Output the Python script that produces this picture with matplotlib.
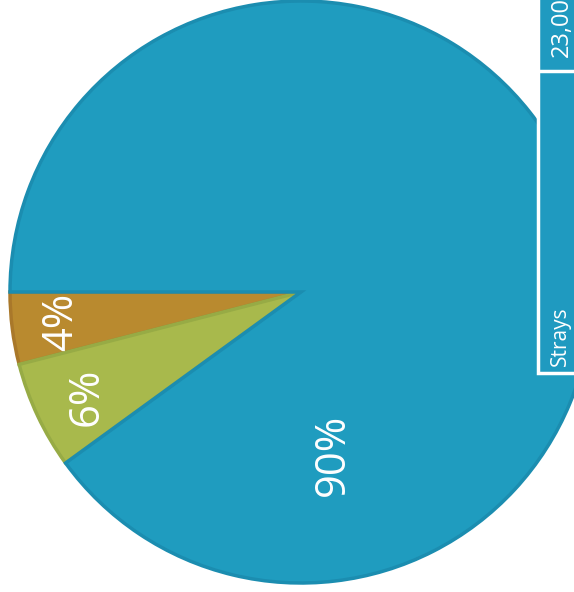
import numpy as np
import matplotlib.pyplot as plt
from matplotlib.patches import Rectangle

# datos del grafico (porcentajes)
valores = [4, 6, 90]
etiquetas = ["4%", "6%", "90%"]
colores = ["#b98a2f", "#a8b94c", "#1f9cbf"]
bordes = ["#a9782a", "#97ab45", "#1b8db0"]
categoria = "Strays"
cantidad = "23,000"

W, H = 574, 592
fig = plt.figure(figsize=(W / 100, H / 100), dpi=100)
ax = fig.add_axes([0, 0, 1, 1])

cx, cy, r = 301, H - 292, 291
wedges, _ = ax.pie(valores, colors=colores, startangle=180, counterclock=True,
                   center=(cx, cy), radius=r,
                   wedgeprops=dict(linewidth=2.5))
for w, b in zip(wedges, bordes):
    w.set_edgecolor(b)

# posicion de las etiquetas (angulo, fraccion del radio)
pos = [(187.2, 0.83), (206.0, 0.82), (281.0, 0.57)]
for (ang, d), t in zip(pos, etiquetas):
    a = np.deg2rad(ang)
    ax.text(cx + d * r * np.cos(a), cy + d * r * np.sin(a), t, rotation=90,
            ha="center", va="center", color="white", fontsize=30,
            family="Open Sans")

# caja de la leyenda / tabla
ax.add_patch(Rectangle((538, H - 373), 80, 400, facecolor="#1f9ac0",
                       edgecolor="white", linewidth=2.5, zorder=3))
ax.plot([538, 600], [H - 71, H - 71], color="white", linewidth=2.5, zorder=4)
ax.text(560, H - 366, categoria, rotation=90, ha="center", va="bottom",
        color="white", fontsize=15, family="Open Sans", zorder=5)
ax.text(562, H - 57, cantidad, rotation=90, ha="center", va="bottom",
        color="white", fontsize=17, family="Open Sans", zorder=5)

ax.set_xlim(0, W)
ax.set_ylim(0, H)
ax.set_aspect("auto")
ax.axis("off")
fig.savefig("out.png", dpi=100, facecolor="white")
